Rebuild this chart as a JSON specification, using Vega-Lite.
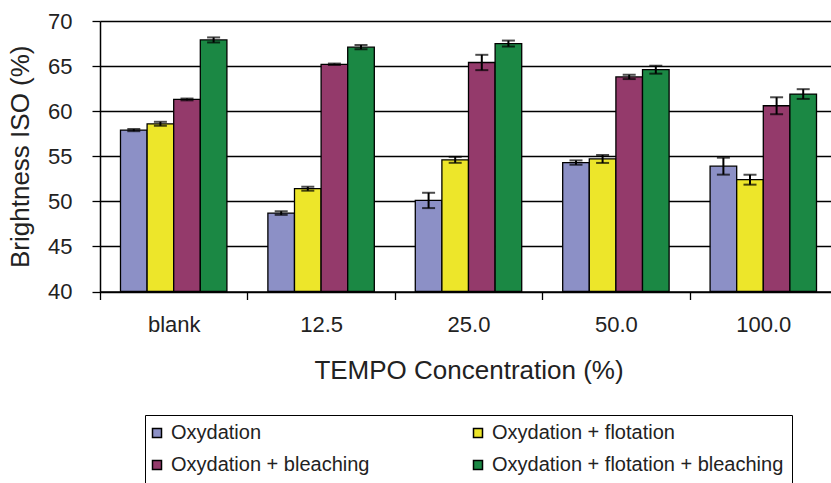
{
  "$schema": "https://vega.github.io/schema/vega-lite/v6.json",
  "width": 731,
  "height": 270.5,
  "autosize": {"type": "none"},
  "padding": {"left": 100, "top": 21, "right": 0, "bottom": 191},
  "background": "white",
  "config": {
    "font": "Liberation Sans",
    "view": {"stroke": null},
    "axis": {
      "labelColor": "#222222",
      "titleColor": "#222222",
      "labelFont": "Liberation Sans",
      "titleFont": "Liberation Sans",
      "titleFontWeight": "normal",
      "domainColor": "#000000",
      "tickColor": "#000000",
      "gridColor": "#000000"
    }
  },
  "data": {
    "values": [
      {"conc": "blank", "treatment": "Oxydation", "value": 57.9, "lo": 57.78, "hi": 58.02},
      {"conc": "blank", "treatment": "Oxydation + flotation", "value": 58.6, "lo": 58.38, "hi": 58.82},
      {"conc": "blank", "treatment": "Oxydation + bleaching", "value": 61.3, "lo": 61.2, "hi": 61.4},
      {"conc": "blank", "treatment": "Oxydation + flotation + bleaching", "value": 67.9, "lo": 67.62, "hi": 68.18},
      {"conc": "12.5", "treatment": "Oxydation", "value": 48.7, "lo": 48.5, "hi": 48.9},
      {"conc": "12.5", "treatment": "Oxydation + flotation", "value": 51.4, "lo": 51.18, "hi": 51.62},
      {"conc": "12.5", "treatment": "Oxydation + bleaching", "value": 65.2, "lo": 65.12, "hi": 65.28},
      {"conc": "12.5", "treatment": "Oxydation + flotation + bleaching", "value": 67.1, "lo": 66.86, "hi": 67.34},
      {"conc": "25.0", "treatment": "Oxydation", "value": 50.1, "lo": 49.25, "hi": 50.95},
      {"conc": "25.0", "treatment": "Oxydation + flotation", "value": 54.6, "lo": 54.27, "hi": 54.93},
      {"conc": "25.0", "treatment": "Oxydation + bleaching", "value": 65.4, "lo": 64.55, "hi": 66.25},
      {"conc": "25.0", "treatment": "Oxydation + flotation + bleaching", "value": 67.5, "lo": 67.17, "hi": 67.83},
      {"conc": "50.0", "treatment": "Oxydation", "value": 54.3, "lo": 54.06, "hi": 54.54},
      {"conc": "50.0", "treatment": "Oxydation + flotation", "value": 54.7, "lo": 54.26, "hi": 55.14},
      {"conc": "50.0", "treatment": "Oxydation + bleaching", "value": 63.8, "lo": 63.56, "hi": 64.04},
      {"conc": "50.0", "treatment": "Oxydation + flotation + bleaching", "value": 64.6, "lo": 64.16, "hi": 65.04},
      {"conc": "100.0", "treatment": "Oxydation", "value": 53.9, "lo": 52.96, "hi": 54.84},
      {"conc": "100.0", "treatment": "Oxydation + flotation", "value": 52.4, "lo": 51.85, "hi": 52.95},
      {"conc": "100.0", "treatment": "Oxydation + bleaching", "value": 60.6, "lo": 59.66, "hi": 61.54},
      {"conc": "100.0", "treatment": "Oxydation + flotation + bleaching", "value": 61.9, "lo": 61.36, "hi": 62.44}
    ]
  },
  "encoding": {
    "x": {
      "field": "conc",
      "type": "nominal",
      "sort": ["blank", "12.5", "25.0", "50.0", "100.0"],
      "scale": {"range": [0, 737], "paddingInner": 0, "paddingOuter": 0},
      "axis": {
        "title": "TEMPO Concentration (%)",
        "titleFontSize": 26,
        "titlePadding": 22,
        "labelFontSize": 22,
        "labelAngle": 0,
        "labelPadding": 15,
        "tickSize": 8,
        "tickWidth": 1.3,
        "tickBand": "extent",
        "domainWidth": 1.5,
        "grid": false
      }
    },
    "xOffset": {
      "field": "treatment",
      "type": "nominal",
      "sort": ["Oxydation", "Oxydation + flotation", "Oxydation + bleaching", "Oxydation + flotation + bleaching"],
      "scale": {"paddingInner": 0, "paddingOuter": 0.77}
    }
  },
  "layer": [
    {
      "mark": {"type": "bar", "stroke": "#000000", "strokeWidth": 1.3},
      "encoding": {
        "y": {
          "field": "value",
          "type": "quantitative",
          "scale": {"domain": [40, 70], "zero": false, "clamp": true, "nice": false},
          "axis": {
            "title": "Brightness ISO (%)",
            "titleFontSize": 26,
            "titlePadding": 14,
            "labelFontSize": 22,
            "labelPadding": 20,
            "values": [40, 45, 50, 55, 60, 65, 70],
            "tickSize": 8,
            "tickWidth": 1.3,
            "grid": true,
            "gridWidth": 1.4,
            "domainWidth": 1.5
          }
        },
        "color": {
          "field": "treatment",
          "type": "nominal",
          "sort": ["Oxydation", "Oxydation + flotation", "Oxydation + bleaching", "Oxydation + flotation + bleaching"],
          "scale": {
            "domain": ["Oxydation", "Oxydation + flotation", "Oxydation + bleaching", "Oxydation + flotation + bleaching"],
            "range": ["#8C90C6", "#EDE62A", "#943A6B", "#1B8844"]
          },
          "legend": {
            "title": null,
            "orient": "none",
            "direction": "horizontal",
            "legendX": 45,
            "legendY": 394,
            "columns": 2,
            "columnPadding": 100,
            "rowPadding": 12,
            "padding": 8,
            "strokeColor": "#000000",
            "symbolType": "square",
            "symbolSize": 81,
            "symbolOffset": -6,
            "symbolStrokeColor": "#000000",
            "symbolStrokeWidth": 1.5,
            "symbolOpacity": 1,
            "labelFontSize": 20,
            "labelColor": "#222222",
            "labelFont": "Liberation Sans",
            "labelOffset": 4,
            "labelLimit": 400
          }
        }
      }
    },
    {
      "mark": {"type": "rule", "color": "#000000", "strokeWidth": 2},
      "encoding": {
        "y": {"field": "lo", "type": "quantitative"},
        "y2": {"field": "hi"}
      }
    },
    {
      "mark": {"type": "tick", "color": "#000000", "thickness": 2, "size": 13},
      "encoding": {
        "y": {"field": "lo", "type": "quantitative"}
      }
    },
    {
      "mark": {"type": "tick", "color": "#000000", "thickness": 2, "size": 13},
      "encoding": {
        "y": {"field": "hi", "type": "quantitative"}
      }
    }
  ]
}
